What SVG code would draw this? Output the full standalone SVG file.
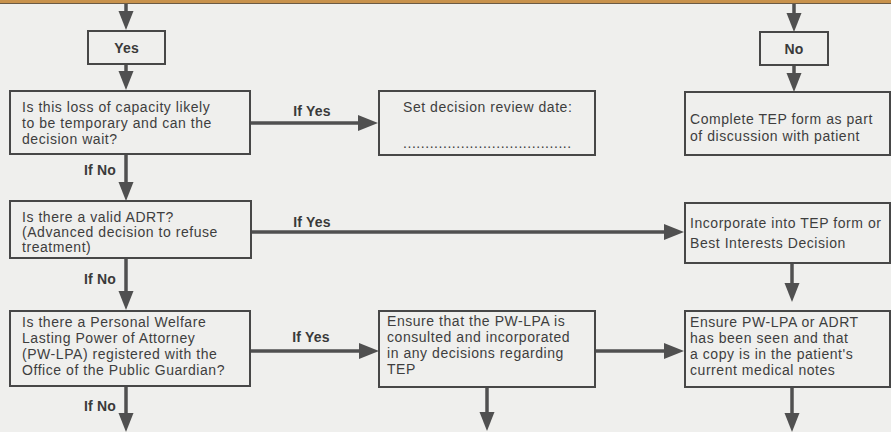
<svg xmlns="http://www.w3.org/2000/svg" width="891" height="432" viewBox="0 0 891 432">
  <style>
    .box { fill: none; stroke: #474747; stroke-width: 2; }
    .txt { font-family: "Liberation Sans", Arial, sans-serif; font-size: 14px; letter-spacing: 0.55px; fill: #3e3e3e; }
    .lbl { font-family: "Liberation Sans", Arial, sans-serif; font-size: 14px; letter-spacing: 0.2px; font-weight: bold; fill: #3a3a3a; }
    .stem { stroke: #505050; stroke-width: 3.5; fill: none; }
  </style>
  <defs>
    <!-- filled triangular heads, pointing down and right -->
    <polygon id="headDown" points="-7.5,0 7.5,0 0,19" fill="#505050"/>
    <polygon id="headRight" points="0,-8 20,0 0,8" fill="#505050"/>
  </defs>

  <rect x="0" y="0" width="891" height="432" fill="#efefed"/>
  <rect x="0" y="0" width="891" height="3" fill="#c8924c"/>
  <line x1="0" y1="3.5" x2="891" y2="3.5" stroke="#6b5a44" stroke-width="1"/>

  <g id="connectors">
    <!-- left column -->
    <line class="stem" x1="126" y1="4" x2="126" y2="12"/>
    <use href="#headDown" x="126" y="11"/>
    <line class="stem" x1="126" y1="64" x2="126" y2="72"/>
    <use href="#headDown" x="126" y="71"/>
    <line class="stem" x1="126" y1="154" x2="126" y2="183"/>
    <use href="#headDown" x="126" y="182"/>
    <line class="stem" x1="126" y1="258" x2="126" y2="292"/>
    <use href="#headDown" x="126" y="291"/>
    <line class="stem" x1="126" y1="386" x2="126" y2="414"/>
    <use href="#headDown" x="126" y="413"/>
    <!-- horizontal "If Yes" branches -->
    <line class="stem" x1="250" y1="123" x2="359" y2="123"/>
    <use href="#headRight" x="358" y="123"/>
    <line class="stem" x1="251" y1="232" x2="664" y2="232"/>
    <use href="#headRight" x="664" y="232"/>
    <line class="stem" x1="250" y1="351" x2="360" y2="351"/>
    <use href="#headRight" x="359" y="351"/>
    <line class="stem" x1="595" y1="351" x2="664" y2="351"/>
    <use href="#headRight" x="664" y="351"/>
    <!-- middle column -->
    <line class="stem" x1="487" y1="387" x2="487" y2="413"/>
    <use href="#headDown" x="487" y="412"/>
    <!-- right column -->
    <line class="stem" x1="794" y1="4" x2="794" y2="14"/>
    <use href="#headDown" x="794" y="13"/>
    <line class="stem" x1="794" y1="65" x2="794" y2="74"/>
    <use href="#headDown" x="794" y="73"/>
    <line class="stem" x1="792" y1="263" x2="792" y2="284"/>
    <use href="#headDown" x="792" y="283"/>
    <line class="stem" x1="792" y1="387" x2="792" y2="414"/>
    <use href="#headDown" x="792" y="413"/>
  </g>

  <g id="labels">
    <text class="lbl" x="312" y="116" text-anchor="middle">If Yes</text>
    <text class="lbl" x="312" y="227" text-anchor="middle">If Yes</text>
    <text class="lbl" x="311" y="342" text-anchor="middle">If Yes</text>
    <text class="lbl" x="100" y="175" text-anchor="middle">If No</text>
    <text class="lbl" x="100" y="284" text-anchor="middle">If No</text>
    <text class="lbl" x="100" y="411" text-anchor="middle">If No</text>
  </g>

  <g id="yes">
    <rect class="box" x="88" y="31" width="77" height="33"/>
    <text class="lbl" x="126.5" y="53" text-anchor="middle">Yes</text>
  </g>

  <g id="no">
    <rect class="box" x="760" y="32" width="68" height="33"/>
    <text class="lbl" x="794" y="54" text-anchor="middle">No</text>
  </g>

  <g id="q-temporary">
    <rect class="box" x="10" y="91" width="240" height="63"/>
    <text class="txt" x="22" y="112">Is this loss of capacity likely</text>
    <text class="txt" x="22" y="128">to be temporary and can the</text>
    <text class="txt" x="22" y="144">decision wait?</text>
  </g>

  <g id="review-date">
    <rect class="box" x="379" y="91" width="216" height="64"/>
    <text class="txt" x="403" y="112">Set decision review date:</text>
    <text class="txt" x="403" y="148" letter-spacing="1.2">......................................</text>
  </g>

  <g id="complete-tep">
    <rect class="box" x="685" y="92" width="205" height="63"/>
    <text class="txt" x="690" y="124">Complete TEP form as part</text>
    <text class="txt" x="690" y="141">of discussion with patient</text>
  </g>

  <g id="q-adrt">
    <rect class="box" x="10" y="201" width="241" height="57"/>
    <text class="txt" x="22" y="222">Is there a valid ADRT?</text>
    <text class="txt" x="22" y="237">(Advanced decision to refuse</text>
    <text class="txt" x="22" y="252">treatment)</text>
  </g>

  <g id="incorporate">
    <rect class="box" x="685" y="203" width="205" height="60"/>
    <text class="txt" x="690" y="228">Incorporate into TEP form or</text>
    <text class="txt" x="690" y="248">Best Interests Decision</text>
  </g>

  <g id="q-pwlpa">
    <rect class="box" x="10" y="311" width="240" height="75"/>
    <text class="txt" x="22" y="327">Is there a Personal Welfare</text>
    <text class="txt" x="22" y="343">Lasting Power of Attorney</text>
    <text class="txt" x="22" y="359">(PW-LPA) registered with the</text>
    <text class="txt" x="22" y="375">Office of the Public Guardian?</text>
  </g>

  <g id="consult-pwlpa">
    <rect class="box" x="379" y="311" width="216" height="76"/>
    <text class="txt" x="387" y="326">Ensure that the PW-LPA is</text>
    <text class="txt" x="387" y="342">consulted and incorporated</text>
    <text class="txt" x="387" y="358">in any decisions regarding</text>
    <text class="txt" x="387" y="374">TEP</text>
  </g>

  <g id="copy-notes">
    <rect class="box" x="685" y="311" width="205" height="76"/>
    <text class="txt" x="690" y="327">Ensure PW-LPA or ADRT</text>
    <text class="txt" x="690" y="343">has been seen and that</text>
    <text class="txt" x="690" y="359">a copy is in the patient's</text>
    <text class="txt" x="690" y="375">current medical notes</text>
  </g>
</svg>
